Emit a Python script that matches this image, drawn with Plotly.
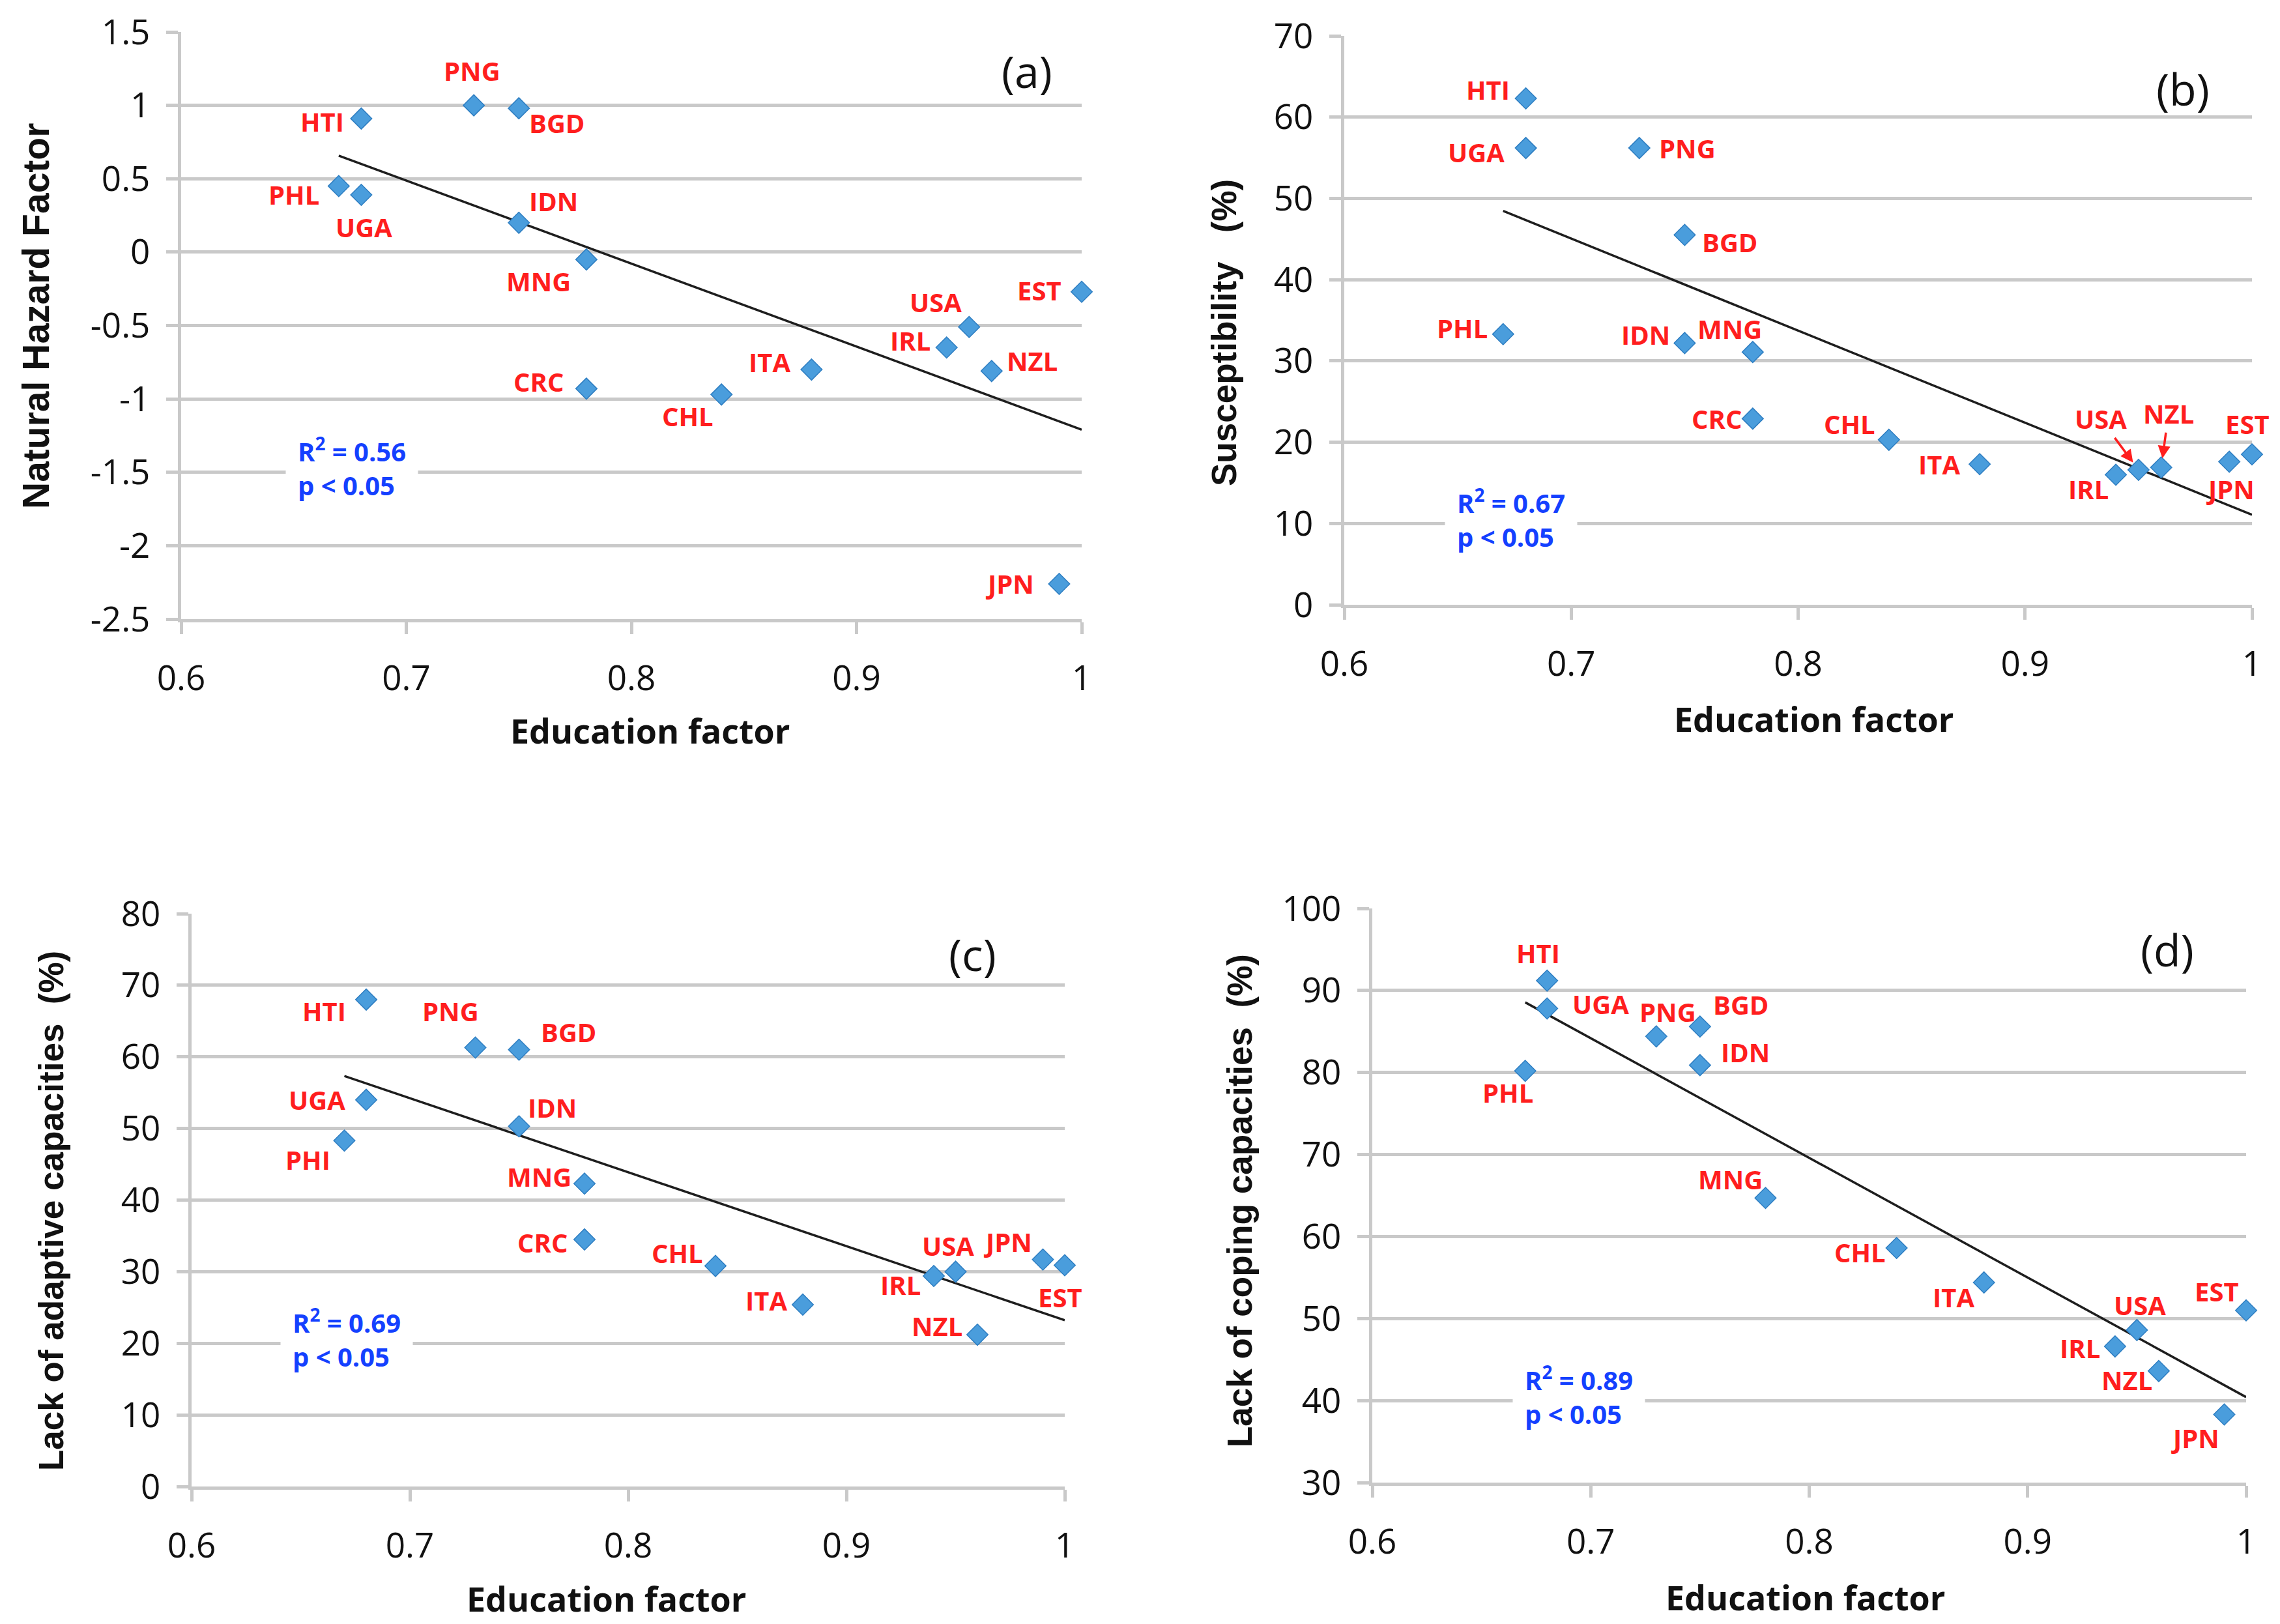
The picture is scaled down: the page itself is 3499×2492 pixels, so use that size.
import numpy as np
import plotly.graph_objects as go

# ---------------- data ----------------
countries = ["HTI", "UGA", "PHL", "PNG", "BGD", "IDN", "MNG", "CRC",
             "CHL", "ITA", "IRL", "USA", "NZL", "JPN", "EST"]
education = [0.68, 0.68, 0.67, 0.73, 0.75, 0.75, 0.78, 0.78,
             0.84, 0.88, 0.94, 0.95, 0.96, 0.99, 1.00]

hazard = [0.91, 0.39, 0.45, 1.00, 0.98, 0.20, -0.05, -0.93,
          -0.97, -0.80, -0.65, -0.51, -0.81, -2.26, -0.27]
susceptibility = [62.3, 56.2, 33.3, 56.2, 45.5, 32.2, 31.1, 22.9,
                  20.3, 17.3, 16.0, 16.6, 16.9, 17.6, 18.5]
adaptive = [68.0, 54.0, 48.3, 61.3, 61.0, 50.3, 42.3, 34.5,
            30.8, 25.4, 29.4, 30.0, 21.2, 31.7, 30.9]
coping = [91.2, 87.8, 80.2, 84.4, 85.6, 80.9, 64.7, None,
          58.6, 54.4, 46.6, 48.6, 43.6, 38.3, 51.0]

labels_c = ["HTI", "UGA", "PHI", "PNG", "BGD", "IDN", "MNG", "CRC",
            "CHL", "ITA", "IRL", "USA", "NZL", "JPN", "EST"]

r2_values = ["0.56", "0.67", "0.69", "0.89"]
panel_tags = ["(a)", "(b)", "(c)", "(d)"]
y_titles = ["Natural Hazard Factor", "Susceptibility\u00a0\u00a0 (%)",
            "Lack of adaptive capacities\u00a0 (%)", "Lack of coping capacities\u00a0 (%)"]
x_title = "Education factor"

x_tickvals = [0.6, 0.7, 0.8, 0.9, 1.0]
x_ticktext = ["0.6", "0.7", "0.8", "0.9", "1"]
ytick_a = [1.5, 1, 0.5, 0, -0.5, -1, -1.5, -2, -2.5]
ytext_a = ["1.5", "1", "0.5", "0", "-0.5", "-1", "-1.5", "-2", "-2.5"]
ytick_b = [0, 10, 20, 30, 40, 50, 60, 70]
ytick_c = [0, 10, 20, 30, 40, 50, 60, 70, 80]
ytick_d = [30, 40, 50, 60, 70, 80, 90, 100]

# ---------------- layout / style ----------------
W, H = 3499, 2492
S = 2.2315  # reference thumbnail px -> figure px

RED = "#FF1E1E"
BLUE = "#1440FF"
GRID = "#C9C9C9"
MARK_FILL = "#4A9DDC"
MARK_LINE = "#2E7EC2"
FONT = "Open Sans"
AXFONT = "Liberation Sans"

# plot-area pixel boxes: (left, right, top, bottom)
boxes = [(270, 1652, 41, 942), (2055, 3448, 47, 920),
         (286, 1626, 1394, 2273), (2098, 3439, 1386, 2267)]
yranges = [(-2.5, 1.5), (0, 70), (0, 80), (30, 100)]

# label offsets (thumbnail px, dx right, dy down) per panel
offs = [
    {"HTI": (-27, 2), "PNG": (-1, -24), "BGD": (26, 10), "PHL": (-31, 6), "UGA": (2, 22),
     "IDN": (24, -15), "MNG": (-33, 15), "CRC": (-33, -5), "CHL": (-23, 15), "ITA": (-29, -5),
     "IRL": (-25, -5), "USA": (-23, -17), "NZL": (28, -7), "EST": (-29, -1), "JPN": (-34, 0)},
    {"HTI": (-26, -6), "UGA": (-34, 3), "PNG": (33, 0), "BGD": (31, 5), "PHL": (-28, -4),
     "IDN": (-27, -6), "MNG": (-16, -16), "CRC": (-25, 0), "CHL": (-27, -11), "ITA": (-28, 0),
     "IRL": (-19, 10), "USA": (-26, -35), "NZL": (5, -37), "JPN": (1, 19), "EST": (-3, -21)},
    {"HTI": (-29, 8), "PNG": (-17, -25), "BGD": (34, -12), "UGA": (-34, 0), "PHI": (-25, 13),
     "IDN": (23, -13), "MNG": (-31, -5), "CRC": (-29, 2), "CHL": (-26, -9), "ITA": (-25, -3),
     "IRL": (-23, 6), "USA": (-5, -18), "NZL": (-28, -6), "JPN": (-24, -12), "EST": (-3, 22)},
    {"HTI": (-6, -19), "UGA": (37, -3), "PNG": (8, -17), "BGD": (28, -15), "IDN": (31, -9),
     "PHL": (-12, 15), "MNG": (-24, -13), "CHL": (-25, 3), "ITA": (-21, 10), "IRL": (-24, 1),
     "USA": (2, -17), "NZL": (-22, 6), "JPN": (-20, 16), "EST": (-20, -13)},
]
arrow_labels = {1: ["USA", "NZL"]}  # panel index -> labels drawn with arrows
r2_x = [0.6464, 0.6441, 0.6407, 0.6641]
r2_y = [-1.5, 10, 20, 40]
tag_pos = [(1568, 100), (3342, 128), (1484, 1455), (3318, 1448)]
ytitle_pos = [(47, 477), (1870, 502), (70, 1850), (1894, 1835)]
ytitle_size = [57, 53, 53, 53]
xtitle_pos = [(990, 1112), (2775, 1095), (922, 2444), (2762, 2442)]


def px(x, y):
    return x / W, 1 - y / H


series = [hazard, susceptibility, adaptive, coping]
label_sets = [countries, countries, labels_c, countries]
yticks = [(ytick_a, ytext_a), (ytick_b, [str(v) for v in ytick_b]),
          (ytick_c, [str(v) for v in ytick_c]), (ytick_d, [str(v) for v in ytick_d])]

fig = go.Figure()
annotations = []
layout = {}

for i in range(4):
    n = "" if i == 0 else str(i + 1)
    xa, ya = "x" + n, "y" + n
    L, R, T, B = boxes[i]
    xs = [x for x, y in zip(education, series[i]) if y is not None]
    ys = [y for y in series[i] if y is not None]
    labs = [l for l, y in zip(label_sets[i], series[i]) if y is not None]

    # trend line (least squares from the data)
    k, b = np.polyfit(xs, ys, 1)
    tx = np.array([min(xs), max(xs)])
    fig.add_trace(go.Scatter(x=tx, y=k * tx + b, mode="lines", xaxis=xa, yaxis=ya,
                             line=dict(color="#1E1E1E", width=3.5), showlegend=False,
                             hoverinfo="skip"))
    fig.add_trace(go.Scatter(x=xs, y=ys, mode="markers", xaxis=xa, yaxis=ya,
                             marker=dict(symbol="diamond", size=25, color=MARK_FILL,
                                         line=dict(color=MARK_LINE, width=1.5)),
                             cliponaxis=False, showlegend=False, text=labs))

    for lab, x, y in zip(labs, xs, ys):
        dx, dy = offs[i][lab]
        if lab in arrow_labels.get(i, []):
            annotations.append(dict(x=x, y=y, xref=xa, yref=ya, text=lab, showarrow=True,
                                    ax=dx * S, ay=dy * S, arrowhead=2, arrowsize=1.1,
                                    arrowwidth=3.5, arrowcolor=RED, standoff=14,
                                    font=dict(family=FONT, size=40, color=RED, weight="bold")))
        else:
            annotations.append(dict(x=x, y=y, xref=xa, yref=ya, text=lab, showarrow=False,
                                    xanchor="center", yanchor="middle",
                                    xshift=dx * S, yshift=-dy * S,
                                    font=dict(family=FONT, size=40, color=RED, weight="bold")))

    annotations.append(dict(x=r2_x[i], y=r2_y[i], xref=xa, yref=ya, xanchor="left",
                            yanchor="middle", align="left", showarrow=False, yshift=8,
                            text="R<sup>2</sup> = " + r2_values[i] + "<br>p &lt; 0.05",
                            bgcolor="white", borderpad=18,
                            font=dict(family=FONT, size=40, color=BLUE, weight="bold")))
    tx_, ty_ = px(*tag_pos[i])
    annotations.append(dict(x=tx_, y=ty_, xref="paper", yref="paper", showarrow=False,
                            xanchor="center", yanchor="middle",
                            text=panel_tags[i], font=dict(family=FONT, size=68, color="#111")))
    yx, yy = px(*ytitle_pos[i])
    annotations.append(dict(x=yx, y=yy, xref="paper", yref="paper", showarrow=False,
                            xanchor="center", yanchor="middle",
                            textangle=-90, text=y_titles[i],
                            font=dict(family=AXFONT, size=ytitle_size[i], color="#111",
                                      weight="bold")))
    xx, xy = px(*xtitle_pos[i])
    annotations.append(dict(x=xx, y=xy, xref="paper", yref="paper", showarrow=False,
                            xanchor="center", yanchor="middle",
                            text=x_title,
                            font=dict(family=FONT, size=52, color="#111", weight="bold")))

    d0, d1 = L / W, R / W
    common = dict(automargin=False, zeroline=False, showline=True, linecolor=GRID,
                  linewidth=5, ticks="outside", ticklen=18, tickwidth=5, tickcolor=GRID,
                  ticklabeloverflow="allow",
                  tickfont=dict(family=FONT, size=53, color="#111"))
    layout["xaxis" + n] = dict(domain=[d0, d1], range=[0.6, 1.0], anchor=ya,
                               tickvals=x_tickvals, ticktext=x_ticktext,
                               showgrid=False, ticklabelstandoff=22, **common)
    layout["yaxis" + n] = dict(domain=[1 - B / H, 1 - T / H], range=list(yranges[i]),
                               anchor=xa, tickvals=yticks[i][0], ticktext=yticks[i][1],
                               showgrid=True, gridcolor=GRID, gridwidth=5,
                               ticklabelstandoff=14, **common)

fig.update_layout(width=W, height=H, margin=dict(l=0, r=0, t=0, b=0, autoexpand=False),
                  paper_bgcolor="white", plot_bgcolor="white", showlegend=False,
                  annotations=annotations, **layout)
fig.write_html("out.html")
